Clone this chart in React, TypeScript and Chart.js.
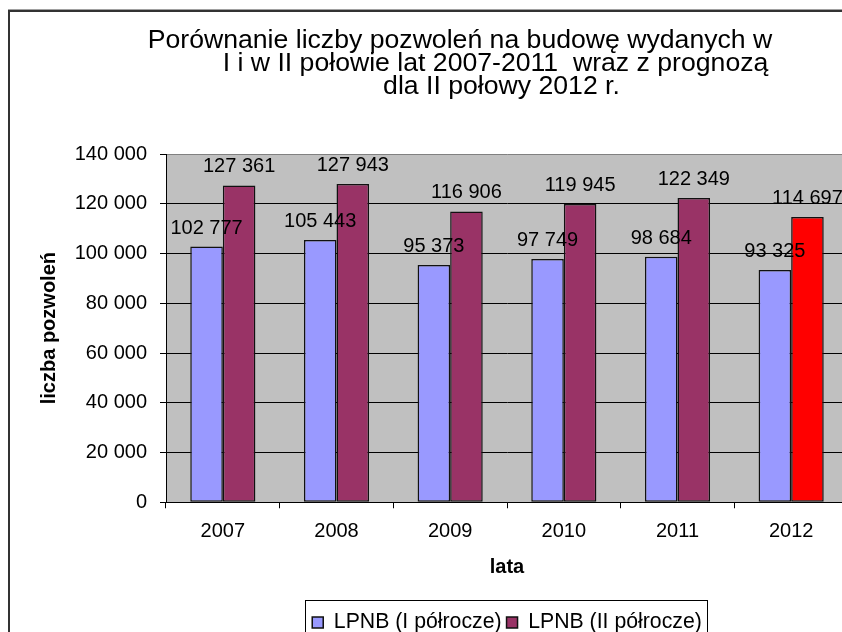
import React, { useEffect, useRef } from "react";
import { Chart, registerables } from "chart.js";

Chart.register(...registerables);

// ---- data ----
const CATEGORIES = ["2007", "2008", "2009", "2010", "2011", "2012"];
const SERIES_1_LABEL = "LPNB (I półrocze)";
const SERIES_2_LABEL = "LPNB (II półrocze)";
const SERIES_1 = [102777, 105443, 95373, 97749, 98684, 93325];
const SERIES_2 = [127361, 127943, 116906, 119945, 122349, 114697];
const FORECAST_INDEX = 5;
const Y_TICKS = [0, 20000, 40000, 60000, 80000, 100000, 120000, 140000];
const TITLE_LINES = [
  "Porównanie liczby pozwoleń na budowę wydanych w",
  "I i w II połowie lat 2007-2011  wraz z prognozą",
  "dla II połowy 2012 r.",
];
const X_TITLE = "lata";
const Y_TITLE = "liczba pozwoleń";

// ---- style / layout ----
const FONT = '"Liberation Sans", Arial, Helvetica, sans-serif';
const COLOR_1 = "#9999FF";
const COLOR_2 = "#993366";
const COLOR_FORECAST = "#FF0000";
const PLOT_BG = "#C0C0C0";
const CANVAS_W = 870;
const CANVAS_H = 660;
const TITLE_POS = [
  { cx: 460, y: 47.5 },
  { cx: 495.5, y: 70.5 },
  { cx: 501.5, y: 94 },
];
const TITLE_STRETCH = 1.065;

const fmt = (v: number) => String(Math.round(v)).replace(/\B(?=(\d{3})+(?!\d))/g, " ");

const backgroundPlugin = {
  id: "bgFrame",
  beforeDraw(chart: any) {
    const { ctx, chartArea } = chart;
    ctx.save();
    ctx.fillStyle = "#ffffff";
    ctx.fillRect(0, 0, chart.width, chart.height);
    ctx.fillStyle = PLOT_BG;
    ctx.fillRect(chartArea.left, chartArea.top, chartArea.right - chartArea.left, chartArea.bottom - chartArea.top);
    // outer frame
    ctx.strokeStyle = "#a0a0a0";
    ctx.lineWidth = 1;
    ctx.beginPath();
    ctx.moveTo(8, 9.5);
    ctx.lineTo(chart.width, 9.5);
    ctx.stroke();
    ctx.strokeStyle = "#333333";
    ctx.lineWidth = 2;
    ctx.beginPath();
    ctx.moveTo(chart.width, 11);
    ctx.lineTo(9, 11);
    ctx.lineTo(9, chart.height);
    ctx.stroke();
    ctx.restore();
  },
};

const titlePlugin = {
  id: "multiTitle",
  afterDraw(chart: any) {
    const { ctx } = chart;
    ctx.save();
    ctx.fillStyle = "#000";
    ctx.font = `25px ${FONT}`;
    ctx.textAlign = "center";
    ctx.textBaseline = "alphabetic";
    TITLE_LINES.forEach((line, i) => {
      const p = TITLE_POS[i];
      ctx.save();
      ctx.translate(p.cx, p.y);
      ctx.scale(TITLE_STRETCH, 1);
      ctx.fillText(line, 0, 0);
      ctx.restore();
    });
    ctx.restore();
  },
};

const valueLabelPlugin = {
  id: "valueLabels",
  afterDatasetsDraw(chart: any) {
    const { ctx } = chart;
    ctx.save();
    ctx.fillStyle = "#000";
    ctx.font = `20px ${FONT}`;
    ctx.textAlign = "center";
    ctx.textBaseline = "alphabetic";
    chart.data.datasets.forEach((ds: any, di: number) => {
      const meta = chart.getDatasetMeta(di);
      meta.data.forEach((bar: any, i: number) => {
        ctx.fillText(fmt(ds.data[i]), bar.x, bar.y - 13);
      });
    });
    ctx.restore();
  },
};

const legendFramePlugin = {
  id: "legendFrame",
  afterDraw(chart: any) {
    const lg = chart.legend;
    if (!lg || !lg.legendHitBoxes || !lg.legendHitBoxes.length) return;
    const hb = lg.legendHitBoxes;
    const left = Math.round(hb[0].left - 7) + 0.5;
    const last = hb[hb.length - 1];
    const right = Math.round(last.left + last.width + 5) + 0.5;
    const top = 600.5;
    const { ctx } = chart;
    ctx.save();
    ctx.strokeStyle = "#000";
    ctx.lineWidth = 1;
    ctx.strokeRect(left, top, right - left, chart.height + 10 - top);
    ctx.restore();
  },
};

export default function App() {
  const ref = useRef<HTMLCanvasElement>(null);

  useEffect(() => {
    if (!ref.current) return;
    const chart = new Chart(ref.current, {
      type: "bar",
      data: {
        labels: CATEGORIES,
        datasets: [
          {
            label: SERIES_1_LABEL,
            data: SERIES_1,
            backgroundColor: COLOR_1,
            borderColor: "#111",
            borderWidth: 1.5,
            borderSkipped: false,
            categoryPercentage: 0.573,
            barPercentage: 1,
          },
          {
            label: SERIES_2_LABEL,
            data: SERIES_2,
            backgroundColor: (c: any) =>
              c.dataIndex === FORECAST_INDEX ? COLOR_FORECAST : COLOR_2,
            borderColor: "#111",
            borderWidth: 1.5,
            borderSkipped: false,
            categoryPercentage: 0.573,
            barPercentage: 1,
          },
        ],
      },
      options: {
        responsive: false,
        animation: false,
        devicePixelRatio: 1,
        layout: { padding: { top: 154, left: 20, right: 22, bottom: 17 } },
        scales: {
          x: {
            grid: {
              display: true,
              drawOnChartArea: false,
              drawTicks: true,
              tickLength: 6,
              tickColor: "#000",
              color: "#000",
              offset: true,
            },
            border: { display: true, color: "#000", width: 1 },
            ticks: {
              color: "#000",
              padding: 11,
              font: { family: FONT, size: 20 },
              maxRotation: 0,
            },
            title: {
              display: true,
              text: X_TITLE,
              color: "#000",
              font: { family: FONT, size: 20, weight: "bold" },
              padding: { top: 0, bottom: 27.5 },
            },
            afterFit(scale: any) {
              scale.height = 104.5;
            },
          },
          y: {
            min: 0,
            max: 140000,
            afterBuildTicks(scale: any) {
              scale.ticks = Y_TICKS.map((v) => ({ value: v }));
            },
            grid: {
              color: (c: any) => (c.tick && c.tick.value === 140000 ? "#808080" : "#000"),
              lineWidth: 1,
              drawTicks: true,
              tickLength: 6,
              tickColor: "#000",
            },
            border: { display: true, color: "#000", width: 1 },
            ticks: {
              color: "#000",
              padding: 13,
              font: { family: FONT, size: 20 },
              callback: (v: any) => fmt(Number(v)),
            },
            title: {
              display: true,
              text: Y_TITLE,
              color: "#000",
              font: { family: FONT, size: 20, weight: "bold" },
              padding: { top: 17, bottom: 0 },
            },
            afterFit(scale: any) {
              scale.width = 146;
            },
          },
        },
        plugins: {
          title: { display: false },
          tooltip: { enabled: false },
          legend: {
            display: true,
            position: "bottom",
            fullSize: false,
            align: "center",
            labels: {
              color: "#000",
              boxWidth: 11,
              boxHeight: 11,
              padding: 5,
              font: { family: FONT, size: 21.25 },
            },
          },
        },
      },
      plugins: [backgroundPlugin, valueLabelPlugin, titlePlugin, legendFramePlugin],
    } as any);
    return () => chart.destroy();
  }, []);

  return (
    <div
      style={{
        position: "fixed",
        left: 0,
        top: 0,
        width: 842,
        height: 632,
        overflow: "hidden",
        background: "#fff",
      }}
    >
      <canvas
        ref={ref}
        width={CANVAS_W}
        height={CANVAS_H}
        style={{ display: "block", width: CANVAS_W, height: CANVAS_H }}
      />
    </div>
  );
}
